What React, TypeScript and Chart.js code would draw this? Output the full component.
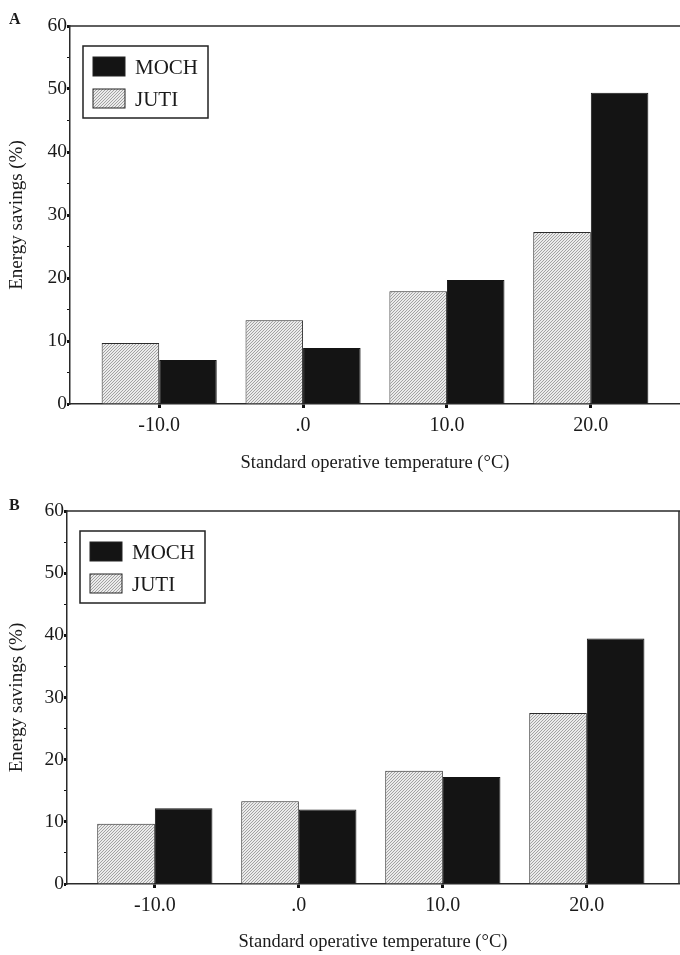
import React, { useEffect, useRef } from "react";
import { Chart, registerables } from "chart.js";

Chart.register(...registerables);

// ---- data ----
const temperatures = [-10, 0, 10, 20];
const temperatureLabels = ["-10.0", ".0", "10.0", "20.0"];
const seriesNames = ["JUTI", "MOCH"];
const jutiA = [9.7, 13.3, 17.9, 27.3];
const mochA = [7.0, 8.9, 19.7, 49.4];
const jutiB = [9.7, 13.3, 18.2, 27.5];
const mochB = [12.2, 12.0, 17.2, 39.5];
const yMajorTicks = [0, 10, 20, 30, 40, 50, 60];
const yTitle = "Energy savings (%)";
const xTitle = "Standard operative temperature (\u00B0C)";

const SERIF = "'Liberation Serif', 'Times New Roman', serif";
const INK = "#1a1a1a";

function makeHatch(): CanvasPattern | string {
  const c = document.createElement("canvas");
  c.width = 3;
  c.height = 3;
  const g = c.getContext("2d");
  if (!g) return "#d0d0d0";
  g.fillStyle = "#ebebeb";
  g.fillRect(0, 0, 3, 3);
  g.strokeStyle = "#9a9a9a";
  g.lineWidth = 0.9;
  g.beginPath();
  g.moveTo(-1, 4);
  g.lineTo(4, -1);
  g.stroke();
  const p = g.createPattern(c, "repeat");
  return p || "#d0d0d0";
}

type PanelCfg = {
  letter: string;
  juti: number[];
  moch: number[];
  height: number;
  padTop: number;
  padRight: number;
  yWidth: number;
  xHeight: number;
  xTitlePad: number;
  xMin: number;
  xMax: number;
  rightBorder: boolean;
  letterY: number;
};

const framePlugin = {
  id: "frameAndLegend",
  afterDraw(chart: any, _args: any, opts: any) {
    const { ctx, chartArea } = chart;
    const { left, top, right, bottom } = chartArea;
    ctx.save();
    // top and right frame
    ctx.strokeStyle = "#2a2a2a";
    ctx.lineWidth = 1.5;
    ctx.beginPath();
    ctx.moveTo(left, top);
    ctx.lineTo(right + 1, top);
    if (opts.rightBorder) {
      ctx.moveTo(right, top);
      ctx.lineTo(right, bottom);
    }
    ctx.stroke();

    // legend box
    const bx = left + 13;
    const by = top + 20;
    const bw = 125;
    const bh = 72;
    ctx.fillStyle = "#ffffff";
    ctx.fillRect(bx, by, bw, bh);
    ctx.strokeStyle = "#222";
    ctx.lineWidth = 1.5;
    ctx.strokeRect(bx, by, bw, bh);

    const ds = chart.data.datasets;
    const order = [1, 0]; // MOCH first, then JUTI
    const rows = [11, 43];
    ctx.font = `21px ${SERIF}`;
    ctx.textBaseline = "middle";
    ctx.textAlign = "left";
    order.forEach((di: number, r: number) => {
      const sy = by + rows[r];
      ctx.fillStyle = ds[di].backgroundColor;
      ctx.fillRect(bx + 10, sy, 32, 19);
      ctx.strokeStyle = "#222";
      ctx.lineWidth = 1;
      ctx.strokeRect(bx + 10, sy, 32, 19);
      ctx.fillStyle = INK;
      ctx.fillText(ds[di].label, bx + 52, sy + 11);
    });

    // panel letter
    ctx.font = `bold 16px ${SERIF}`;
    ctx.fillStyle = INK;
    ctx.textBaseline = "alphabetic";
    ctx.fillText(opts.letter, 9, opts.letterY);
    ctx.restore();
  },
};

function Panel({ cfg }: { cfg: PanelCfg }) {
  const ref = useRef<HTMLCanvasElement>(null);
  useEffect(() => {
    if (!ref.current) return;
    const hatch = makeHatch();
    const chart = new Chart(ref.current, {
      type: "bar",
      data: {
        datasets: [
          {
            label: seriesNames[0],
            data: temperatures.map((t, i) => ({ x: t, y: cfg.juti[i] })),
            backgroundColor: hatch as any,
            borderColor: "#2a2a2a",
            borderWidth: 1,
          },
          {
            label: seriesNames[1],
            data: temperatures.map((t, i) => ({ x: t, y: cfg.moch[i] })),
            backgroundColor: "#141414",
            borderColor: "#141414",
            borderWidth: 1,
          },
        ],
      } as any,
      options: {
        responsive: false,
        animation: false,
        layout: { padding: { top: cfg.padTop, right: cfg.padRight, left: 0, bottom: 0 } },
        datasets: { bar: { categoryPercentage: 0.8, barPercentage: 1.0 } } as any,
        plugins: {
          legend: { display: false },
          tooltip: { enabled: false },
          frameAndLegend: { rightBorder: cfg.rightBorder, letter: cfg.letter, letterY: cfg.letterY },
        } as any,
        scales: {
          x: {
            type: "linear",
            min: cfg.xMin,
            max: cfg.xMax,
            offset: false,
            afterBuildTicks: (s: any) => {
              s.ticks = temperatures.map((v) => ({ value: v }));
            },
            afterFit: (s: any) => {
              s.height = cfg.xHeight;
            },
            ticks: {
              autoSkip: false,
              maxRotation: 0,
              padding: 6,
              color: INK,
              font: { family: SERIF, size: 20 },
              callback: (v: any) => {
                const i = temperatures.indexOf(Number(v));
                return i >= 0 ? temperatureLabels[i] : "";
              },
            },
            grid: {
              offset: false,
              drawOnChartArea: false,
              drawTicks: true,
              tickLength: 4,
              tickWidth: 3,
              tickColor: "#111",
            },
            border: { display: true, color: "#2a2a2a", width: 1.5 },
            title: {
              display: true,
              text: xTitle,
              color: INK,
              font: { family: SERIF, size: 18.5 },
              padding: { top: 0, bottom: cfg.xTitlePad },
            },
          } as any,
          y: {
            min: 0,
            max: 60,
            afterFit: (s: any) => {
              s.width = cfg.yWidth;
            },
            ticks: {
              stepSize: 5,
              padding: 0,
              color: INK,
              font: { family: SERIF, size: 19.5 },
              callback: (v: any) => (yMajorTicks.includes(Number(v)) ? String(v) : ""),
            },
            grid: {
              drawOnChartArea: false,
              drawTicks: true,
              tickLength: 3,
              tickWidth: (c: any) => (yMajorTicks.includes(c.tick?.value) ? 3 : 1),
              tickColor: "#111",
            },
            border: { display: true, color: "#2a2a2a", width: 1.5 },
            title: {
              display: true,
              text: yTitle,
              color: INK,
              font: { family: SERIF, size: 19 },
              padding: { top: 6, bottom: 0 },
            },
          },
        },
      },
      plugins: [framePlugin],
    } as any);
    return () => chart.destroy();
  }, [cfg]);
  return <canvas ref={ref} width={680} height={cfg.height} style={{ display: "block" }} />;
}

const panelA: PanelCfg = {
  letter: "A",
  juti: jutiA,
  moch: mochA,
  height: 477,
  padTop: 26,
  padRight: 0,
  yWidth: 70,
  xHeight: 73,
  xTitlePad: 3,
  xMin: -16.2,
  xMax: 26.2,
  rightBorder: false,
  letterY: 24,
};

const panelB: PanelCfg = {
  letter: "B",
  juti: jutiB,
  moch: mochB,
  height: 478,
  padTop: 34,
  padRight: 1,
  yWidth: 67,
  xHeight: 71,
  xTitlePad: 2,
  xMin: -16.1,
  xMax: 26.4,
  rightBorder: true,
  letterY: 33,
};

export default function App() {
  return (
    <div style={{ position: "fixed", left: 0, top: 0, width: 680, height: 955, background: "#fff" }}>
      <Panel cfg={panelA} />
      <Panel cfg={panelB} />
    </div>
  );
}
